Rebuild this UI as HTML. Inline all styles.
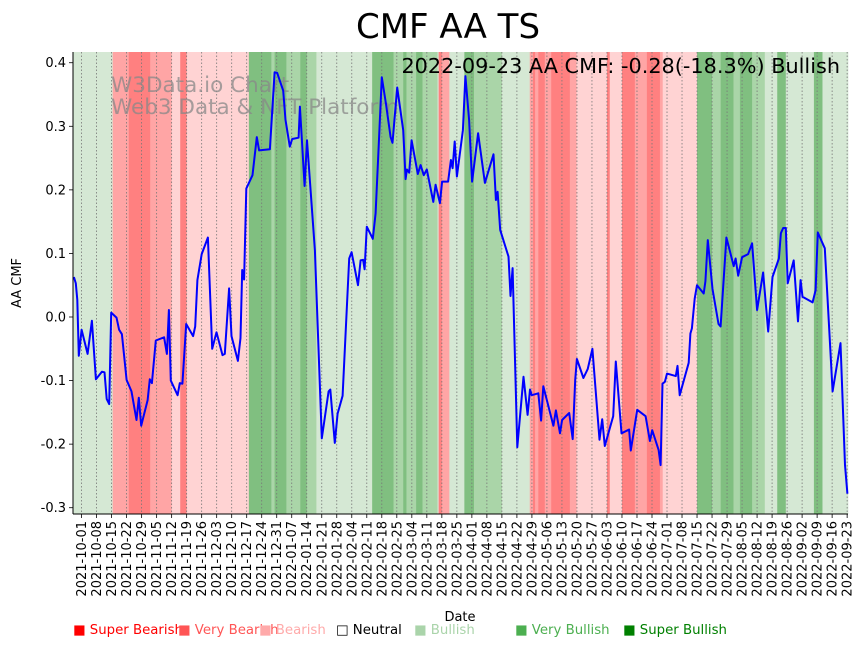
<!DOCTYPE html>
<html><head><meta charset="utf-8"><style>
body{margin:0;background:#fff;font-family:"DejaVu Sans","Liberation Sans",sans-serif}
svg{display:block;font-family:"DejaVu Sans","Liberation Sans",sans-serif}
</style></head><body>
<svg id="c" width="864" height="646" xmlns="http://www.w3.org/2000/svg"></svg>
<script>
const dayIdx=[-3.6,-2.7,-2,-1.3,0,2.8,4.8,6.7,9.5,10.7,11.7,12.9,13.8,16.3,17.5,18.8,21,23.3,25.6,26.7,27.8,30.8,31.8,32.8,34.6,38.5,39.8,40.7,41.6,44.8,45.8,47,48.8,52,53,54,56,58.9,60.9,62.9,65.7,66.8,68.8,69.9,72.9,74.1,74.9,75.8,76.8,79.7,81.7,82.8,87.8,90,91.2,94,95.1,97.1,98.2,101.2,101.8,104,105.1,108.8,112,115.2,116,118.1,119.4,121.7,124.8,125.9,128.9,130.1,131.3,132,133,135.8,137.1,138.3,140,141.9,144.1,145,147.2,150,151.1,151.7,152.8,153.9,156.8,158.1,159.6,161,164,165.1,167.1,168.1,170.9,172.2,173,174,175,177.8,179,180.7,182.1,184.9,188.1,192.1,193.2,194,195.2,199.1,200,201,203.2,206.1,208,209.1,209.9,213,214.3,215.3,220,221.2,223.1,224.1,227.4,229,230.2,231,234,236,238.2,241.5,242.8,244,247.9,249.1,251.8,255.3,256.1,259.1,263,265,266.1,269.1,270,270.9,272,273,277.1,277.9,278.9,283.1,283.9,284.6,285.9,287,290.1,290.9,292,294.2,297,298,300.7,304.1,305,306.2,308,310.8,312.7,315,317.8,320.2,322.2,325.2,326.1,327.2,328.4,329.3,332.1,334.1,335.3,336.2,340.9,342.3,343.3,346.6,350.2,353.9,356,357.1];
const cmfValues=[0.063,0.053,0.027,-0.061,-0.02,-0.058,-0.006,-0.098,-0.086,-0.087,-0.129,-0.137,0.007,-0.001,-0.02,-0.027,-0.099,-0.117,-0.162,-0.127,-0.171,-0.131,-0.098,-0.104,-0.037,-0.032,-0.058,0.011,-0.1,-0.123,-0.104,-0.105,-0.011,-0.03,-0.015,0.058,0.099,0.125,-0.05,-0.024,-0.06,-0.058,0.045,-0.03,-0.069,-0.033,0.074,0.059,0.202,0.223,0.283,0.262,0.264,0.385,0.384,0.356,0.31,0.268,0.28,0.282,0.331,0.206,0.278,0.105,-0.191,-0.117,-0.114,-0.198,-0.152,-0.124,0.092,0.102,0.05,0.089,0.09,0.075,0.142,0.123,0.163,0.252,0.377,0.336,0.283,0.274,0.361,0.294,0.217,0.232,0.227,0.278,0.225,0.239,0.223,0.232,0.181,0.208,0.179,0.213,0.213,0.247,0.234,0.276,0.221,0.294,0.379,0.31,0.213,0.289,0.211,0.256,0.184,0.197,0.137,0.095,0.033,0.077,-0.205,-0.094,-0.154,-0.114,-0.123,-0.12,-0.163,-0.109,-0.171,-0.147,-0.183,-0.162,-0.151,-0.192,-0.099,-0.066,-0.096,-0.082,-0.05,-0.193,-0.161,-0.203,-0.156,-0.07,-0.183,-0.177,-0.21,-0.146,-0.156,-0.195,-0.178,-0.209,-0.233,-0.105,-0.102,-0.089,-0.093,-0.077,-0.123,-0.072,-0.026,-0.018,0.029,0.05,0.037,0.056,0.121,0.044,-0.011,-0.015,0.125,0.08,0.092,0.065,0.094,0.099,0.116,0.011,0.07,-0.023,0.063,0.092,0.132,0.14,0.14,0.053,0.089,-0.007,0.058,0.032,0.023,0.042,0.133,0.108,-0.117,-0.041,-0.233,-0.278];
const bandStart=[-4,14.5,22,32,42,46,49,78,88.5,90,95.5,102,105,109.5,135.5,145.5,150,151.5,156,159,166,166.5,168,171.5,178.5,183,196,209,210.5,211.5,213,216,219,227.7,230.8,245,246.3,252,258,263.6,269.7,271,287,294,298,304,307,312.7,318.6,324.4,328.4,341.5,345.5];
const bandCat=[4,2,1,2,3,1,3,6,5,6,5,6,5,4,6,5,6,5,6,5,4,1,2,4,6,5,4,2,1,2,1,2,1,2,3,1,3,1,2,1,2,3,6,5,6,5,6,5,4,6,4,6,4];
const yTicks=[0.4,0.3,0.2,0.1,0.0,-0.1,-0.2,-0.3];
const legendLabels=["Super Bearish","Very Bearish","Bearish","Neutral","Bullish","Very Bullish","Super Bullish"];
const legendColors=["#ff0000","#ff5555","#ffaaaa","#000000","#aad4aa","#4caf50","#008000"];

const NS="http://www.w3.org/2000/svg";
const svg=document.getElementById('c');
const L=73,R=848,T=52,B=514;
const X0=-4,X1=357.4;
const x=d=>L+(d-X0)/(X1-X0)*(R-L);
const y=v=>317-v*635.7;
const bandColors=["","rgb(255,128,128)","rgb(255,165,165)","rgb(255,211,211)","rgb(213,232,212)","rgb(170,213,168)","rgb(128,191,128)"];
function el(t,a,p){const e=document.createElementNS(NS,t);for(const k in a)e.setAttribute(k,a[k]);(p||svg).appendChild(e);return e;}

for(let i=0;i<bandStart.length;i++){
  const s=bandStart[i],e=i+1<bandStart.length?bandStart[i+1]:X1;
  const r=el('rect',{x:x(s),y:T,width:x(e)-x(s)+0.3,height:B-T,fill:bandColors[bandCat[i]]});
  
  
}
const base=new Date(Date.UTC(2021,9,1));
for(let w=0;w<=51;w++){
  const d=w*7, px=x(d);
  el('line',{x1:px,y1:T,x2:px,y2:B,stroke:'#777','stroke-width':0.8,'stroke-dasharray':'1.5,2'});
  el('line',{x1:px,y1:B,x2:px,y2:B+4,stroke:'#000','stroke-width':0.8});
  const dt=new Date(base.getTime()+d*86400000);
  const lab=dt.toISOString().slice(0,10);
  const t=el('text',{x:0,y:0,transform:`translate(${px+4.5},${B+7}) rotate(-90)`,'text-anchor':'end','font-size':'13px',fill:'#000'});
  t.textContent=lab;
  
  
}
yTicks.forEach(v=>{
  el('line',{x1:L-4,y1:y(v),x2:L,y2:y(v),stroke:'#000','stroke-width':0.8});
  const t=el('text',{x:L-7,y:y(v)+4.5,'text-anchor':'end','font-size':'13px'});
  t.textContent=v.toFixed(1);
  
  
});
const wm=el('text',{x:111,y:92,'font-size':'21.5px',fill:'#888','fill-opacity':0.75});
wm.textContent='W3Data.io Chart';


const wm2=el('text',{x:111,y:114,'font-size':'21.5px',fill:'#888','fill-opacity':0.75});
wm2.textContent='Web3 Data & NFT Platform';


const pts=dayIdx.map((d,i)=>x(d).toFixed(1)+','+y(cmfValues[i]).toFixed(1)).join(' ');
const pl=el('polyline',{points:pts,fill:'none',stroke:'#0000ff','stroke-width':2,'stroke-linejoin':'round'});


el('line',{x1:L,y1:T,x2:L,y2:B,stroke:'#000','stroke-width':1});
el('line',{x1:L,y1:B,x2:R,y2:B,stroke:'#000','stroke-width':1});
const an=el('text',{x:840,y:73,'text-anchor':'end','font-size':'20.8px'});
an.textContent='2022-09-23 AA CMF: -0.28(-18.3%) Bullish';


const ti=el('text',{x:448,y:38,'text-anchor':'middle','font-size':'34px'});
ti.textContent='CMF AA TS';


const yl=el('text',{x:0,y:0,transform:'translate(21,283) rotate(-90)','text-anchor':'middle','font-size':'13px'});
yl.textContent='AA CMF';


const xl=el('text',{x:460,y:621,'text-anchor':'middle','font-size':'13px'});
xl.textContent='Date';


const legX=[73,178,259,336,414,515,623];
legendLabels.forEach((lab,i)=>{
  const t=el('text',{x:legX[i],y:634,'font-size':'13.3px',fill:legendColors[i]});
  t.textContent=(i===3?'□ ':'■ ')+lab;
  
  
});
</script>
</body></html>
